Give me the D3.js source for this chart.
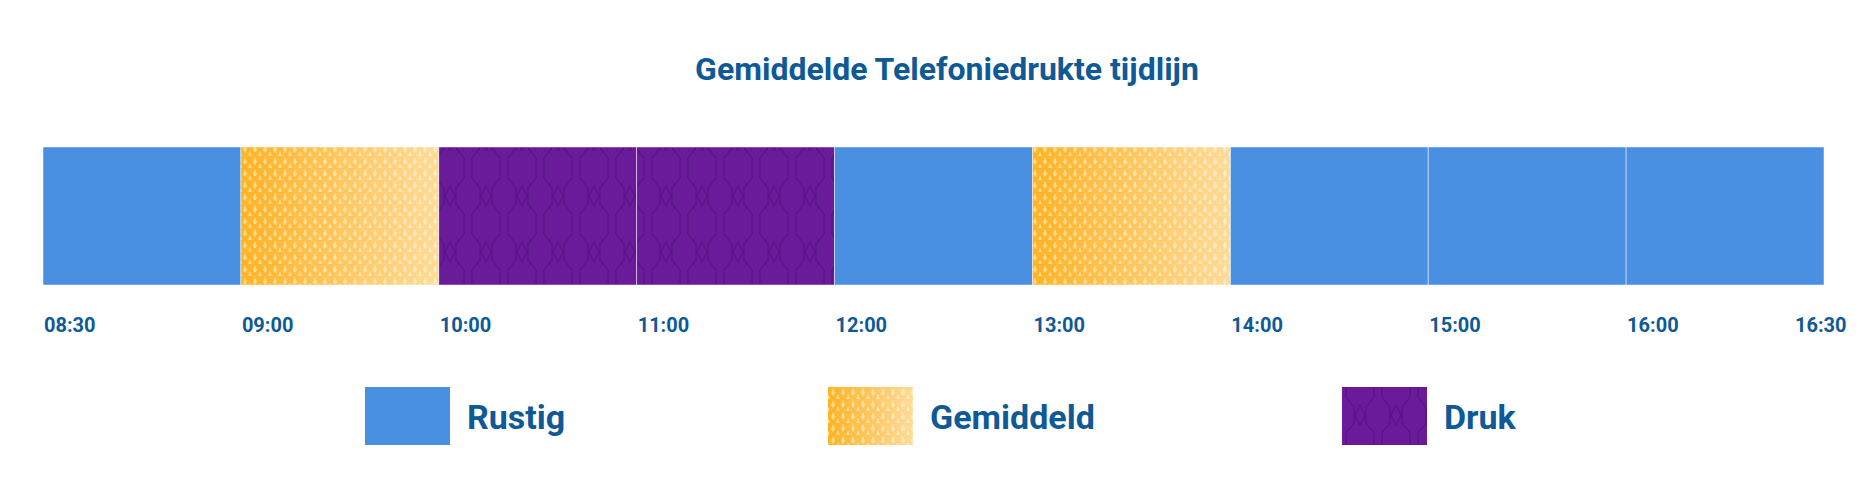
<!DOCTYPE html>
<html><head><meta charset="utf-8">
<script src="https://cdn.jsdelivr.net/npm/d3@7"></script>
<style>body{margin:0;background:#fff}text{font-family:Roboto,"Liberation Sans",sans-serif;font-weight:700}</style>
</head><body><svg id="c" width="1874" height="503"></svg>
<script>
const title = "Gemiddelde Telefoniedrukte tijdlijn";
const slots = ["08:30","09:00","10:00","11:00","12:00","13:00","14:00","15:00","16:00"];
const levels = ["Rustig","Gemiddeld","Druk","Druk","Rustig","Gemiddeld","Rustig","Rustig","Rustig"];
const tickLabels = ["08:30","09:00","10:00","11:00","12:00","13:00","14:00","15:00","16:00","16:30"];
const legendItems = ["Rustig","Gemiddeld","Druk"];

const svg = d3.select("#c");
const defs = svg.append("defs");
// orange pattern
const og = defs.append("linearGradient").attr("id","og");
og.append("stop").attr("offset","0").attr("stop-color","#fff").attr("stop-opacity",0.15);
og.append("stop").attr("offset","1").attr("stop-color","#fff").attr("stop-opacity",0.6);
const po = defs.append("pattern").attr("id","pOr").attr("width",10).attr("height",12).attr("patternUnits","userSpaceOnUse");
po.append("rect").attr("width",10).attr("height",12).attr("fill","#FFA500");
po.append("path").attr("d","M5,1 L7,6 L5,9 L3,6Z M0,7 L2,12 L0,15Z M10,7 L8,12 L10,15Z").attr("fill","#FFD36B");
const pp = defs.append("pattern").attr("id","pPu").attr("width",36).attr("height",56).attr("patternUnits","userSpaceOnUse");
pp.append("rect").attr("width",36).attr("height",56).attr("fill","#6A1B9A");
pp.append("path").attr("d","M4,0 L4,10 L12,20 L12,36 L4,46 L4,56 M32,0 L32,10 L24,20 L24,36 L32,46 L32,56 M18,18 L23,28 L18,38 L13,28Z M0,-10 L0,0 M36,-10 L36,0")
  .attr("fill","none").attr("stroke","#5A1487").attr("stroke-width",1.5);
const fills = {Rustig:"#4A90E2", Gemiddeld:"url(#pOr)", Druk:"url(#pPu)"};

svg.append("text").attr("x",947).attr("y",80).attr("text-anchor","middle").attr("font-size",32).attr("fill","#0E5A96").text(title);

const x = d3.scaleBand().domain(slots).range([43,1824]).padding(0);
const y0 = 147, h = 138;
const g = svg.append("g");
g.selectAll("rect.s").data(slots).join("rect").attr("class","s")
 .attr("x",d=>x(d)).attr("y",y0).attr("width",x.bandwidth()).attr("height",h)
 .attr("fill",(d,i)=>fills[levels[i]]).attr("stroke","#fff").attr("stroke-opacity",0.6).attr("stroke-width",0.8);
g.selectAll("rect.o").data(slots.filter((d,i)=>levels[i]==="Gemiddeld")).join("rect").attr("class","o")
 .attr("x",d=>x(d)).attr("y",y0).attr("width",x.bandwidth()).attr("height",h).attr("fill","url(#og)");

const tx = i => i < slots.length ? x(slots[i]) : 1824 - 30;
svg.selectAll("text.t").data(tickLabels).join("text").attr("class","t")
 .attr("x",(d,i)=>tx(i)+1).attr("y",332).attr("font-size",20).attr("fill","#0E5A96").text(d=>d);

const lx = [365,828,1342];
const lg = svg.selectAll("g.l").data(legendItems).join("g").attr("class","l").attr("transform",(d,i)=>`translate(${lx[i]},387)`);
lg.append("rect").attr("width",85).attr("height",58).attr("fill",d=>fills[d]);
lg.filter(d=>d==="Gemiddeld").append("rect").attr("width",85).attr("height",58).attr("fill","url(#og)");
lg.append("text").attr("x",102).attr("y",42).attr("font-size",34).attr("fill","#0E5A96").text(d=>d);
</script></body></html>
